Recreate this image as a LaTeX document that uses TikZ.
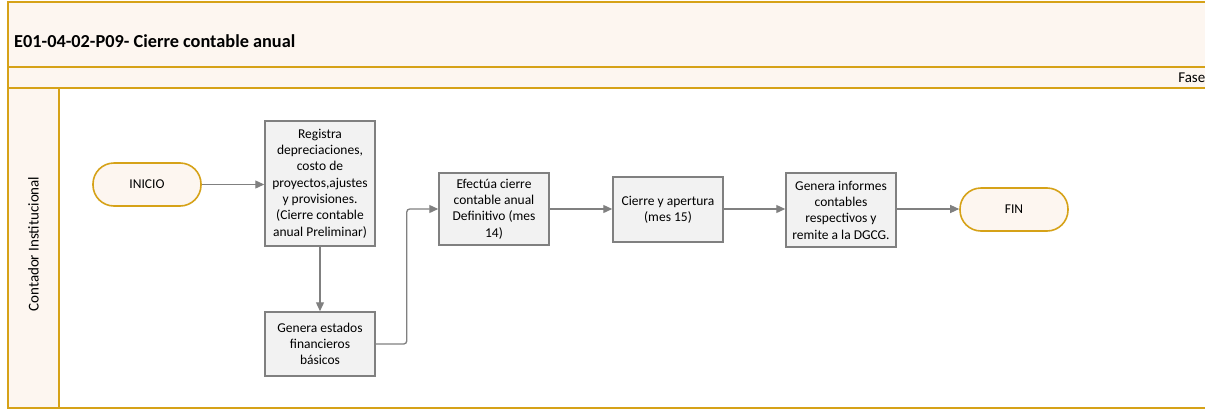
\documentclass[tikz,border=0pt]{standalone}
\usepackage{fontspec}
\setmainfont{Carlito}
\usetikzlibrary{arrows.meta,positioning}
\definecolor{laneframe}{RGB}{214,162,24}
\definecolor{lanefill}{RGB}{253,246,240}
\definecolor{taskfill}{RGB}{242,242,242}
\definecolor{taskline}{RGB}{128,128,128}
\tikzset{
  lane/.style={draw=laneframe,line width=1.6pt,fill=lanefill},
  task/.style={rectangle,draw=taskline,line width=1.5pt,fill=taskfill,
    minimum width=110pt,align=center,inner sep=2pt,
    font=\fontsize{13.5}{16.3}\selectfont},
  terminal/.style={rectangle,rounded corners=21pt,draw=laneframe,line width=1.6pt,
    fill=lanefill,minimum width=108pt,minimum height=43pt,
    font=\fontsize{13.5}{16}\selectfont},
  flow/.style={-{Triangle[length=9pt,width=8pt]},line width=1.3pt,taskline},
  lanelabel/.style={font=\fontsize{15}{18}\selectfont,inner sep=0pt}
}

\begin{document}
\begin{tikzpicture}[x=1pt,y=-1pt]
  \clip (0,0) rectangle (1205,410);
  % pool and lane
  \draw[lane] (8,2) rectangle (1215,67);
  \draw[lane] (8,67) rectangle (1215,88);
  \draw[draw=laneframe,line width=1.6pt,fill=white] (8,88) rectangle (1215,408);
  \draw[lane] (8,88) rectangle (59,408);
  \node[anchor=west,font=\fontsize{18.3}{21}\selectfont\bfseries,inner sep=0pt] (titulo) at (14,41) {E01-04-02-P09- Cierre contable anual};
  \node[lanelabel,anchor=east] (fase) at (1205.5,78) {Fase};
  \node[lanelabel,rotate=90] (contador) at (33.5,244) {Contador Institucional};

  % activities
  \node[terminal] (inicio) at (147,184.5) {INICIO};
  \node[task,minimum height=125pt] (registra) at (320,183.5) {Registra\\depreciaciones,\\costo de\\proyectos,ajustes\\y provisiones.\\(Cierre contable\\anual Preliminar)};
  \node[task,minimum height=64pt] (estados) at (320,344) {Genera estados\\financieros\\básicos};
  \node[task,minimum height=72pt] (efectua) at (494,209) {Efectúa cierre\\contable anual\\Definitivo (mes\\14)};
  \node[task,minimum height=65pt] (cierre) at (668,209.5) {Cierre y apertura\\(mes 15)};
  \node[task,minimum height=74pt] (informes) at (841,210) {Genera informes\\contables\\respectivos y\\remite a la DGCG.};
  \node[terminal] (fin) at (1014,209.5) {FIN};

  \draw[flow] (inicio) -- (registra.west |- inicio);
  \draw[flow] (registra) -- (estados);
  \draw[flow,rounded corners=3pt] (estados.east) -- ++(31,0) |- (efectua.west);
  \draw[flow] (efectua) -- (cierre.west |- efectua);
  \draw[flow] (cierre.east |- efectua) -- (informes.west |- efectua);
  \draw[flow] (informes.east |- efectua) -- (fin.west |- efectua);
\end{tikzpicture}
\end{document}
